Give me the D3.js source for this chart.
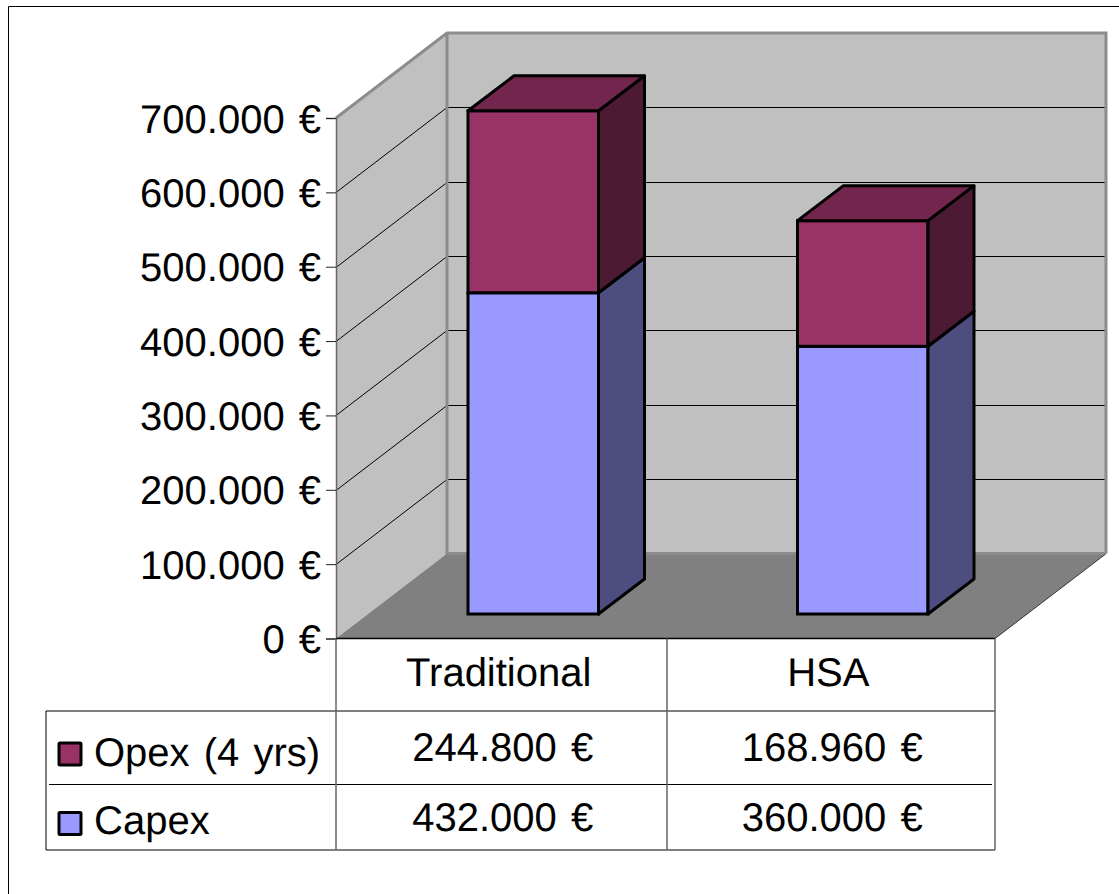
<!DOCTYPE html>
<meta charset="utf-8">
<script src="https://d3js.org/d3.v7.min.js"></script>
<style>
  html, body { margin: 0; background: #fff; }
  svg { display: block; }
  text { font-family: "Liberation Sans", Arial, sans-serif; fill: #000; text-rendering: geometricPrecision; word-spacing: 3px; }
</style>
<body>
<div id="my_dataviz"></div>
<script>
// values
var categories = ["Traditional", "HSA"];
var seriesNames = ["Capex", "Opex (4 yrs)"];
var capex = [432000, 360000];
var opex = [244800, 168960];
var yTicks = [0, 100000, 200000, 300000, 400000, 500000, 600000, 700000];

var colors = {
  capex: { front: "#9999ff", side: "#4d4d80", top: "#7a7acc" },
  opex: { front: "#993366", side: "#4d1a33", top: "#73264d" }
};

var width = 1119, height = 894;

// plot box: front plane of the 3d box, then how far the back wall is pushed
var left = 336, right = 995, bottom = 638.5, top3d = 118;
var depthX = 111, depthY = 85, backRight = 1106;
// bars stand a bit behind the front edge
var barShiftX = 32.5, barShiftY = 24.5, barSideX = 46, barSideY = 35, barWidth = 130.5;
var rows = { head: 711, opex: 784.5, end: 850 };
var tableLeft = 46, colLine = 667;
var fontSize = "40px";

var svg = d3.select("#my_dataviz")
  .append("svg")
    .attr("width", width)
    .attr("height", height);

var euro = d3.formatLocale({
  decimal: ",", thousands: ".", grouping: [3], currency: ["", " €"]
}).format("$,.0f");

var y = d3.scaleLinear().domain([0, 700000]).range([bottom, top3d]);
var x = d3.scaleBand().domain(categories).range([left, right]);

// outer frame
svg.append("path")
  .attr("d", "M8.5," + height + "V6.5H" + width)
  .attr("fill", "none")
  .attr("stroke", "#000")
  .attr("stroke-width", 1);

// left wall
svg.append("path")
  .attr("d", d3.line()([[left, bottom], [left, top3d], [left + depthX, top3d - depthY], [left + depthX, bottom - depthY]]) + "Z")
  .attr("fill", "#c0c0c0");
// back wall
svg.append("rect")
  .attr("x", left + depthX)
  .attr("y", top3d - depthY)
  .attr("width", backRight - left - depthX)
  .attr("height", bottom - top3d)
  .attr("fill", "#c0c0c0");
// floor
svg.append("path")
  .attr("d", d3.line()([[left, bottom], [left + depthX, bottom - depthY], [backRight, bottom - depthY], [right, bottom]]) + "Z")
  .attr("fill", "#808080");

// gridlines
svg.append("g").selectAll("path")
  .data(yTicks.slice(1, -1))
  .enter().append("path")
    .attr("d", function(d) {
      var yy = Math.round(y(d)) + 0.5;
      return "M" + left + "," + yy + "L" + (left + depthX) + "," + (yy - depthY) + "H" + backRight;
    })
    .attr("fill", "none")
    .attr("stroke", "#000")
    .attr("stroke-width", 1);

// wall edges
svg.append("path")
  .attr("d", "M" + left + "," + top3d + "L" + (left + depthX) + "," + (top3d - depthY) + "H" + backRight
    + "V" + (bottom - depthY) + "M" + (left + depthX) + "," + (top3d - depthY) + "V" + (bottom - depthY) + "H" + backRight)
  .attr("fill", "none")
  .attr("stroke", "#8c8c8c")
  .attr("stroke-width", 3);
svg.append("path")
  .attr("d", "M" + (backRight - 1) + "," + (bottom - depthY + 1) + "L" + right + "," + bottom)
  .attr("fill", "none")
  .attr("stroke", "#333")
  .attr("stroke-width", 1);

// bars
var stack = d3.stack().keys(["capex", "opex"]);
var rowsData = categories.map(function(c, i) {
  return { category: c, capex: capex[i], opex: opex[i] };
});
var layers = stack(rowsData);

layers.forEach(function(layer) {
  var key = layer.key;
  var g = svg.append("g").attr("class", key);
  layer.forEach(function(d) {
    var cat = d.data.category;
    var x0 = x(cat) + x.bandwidth() / 2 + barShiftX - barWidth / 2;
    var x1 = x0 + barWidth;
    var yb = y(d[0]) - barShiftY;
    var yt = y(d[1]) - barShiftY;
    g.append("rect")
      .attr("x", x0).attr("y", yt)
      .attr("width", barWidth).attr("height", yb - yt)
      .attr("fill", colors[key].front)
      .attr("stroke", "#000").attr("stroke-width", 3);
    g.append("path")
      .attr("d", d3.line()([[x1, yb], [x1 + barSideX, yb - barSideY], [x1 + barSideX, yt - barSideY], [x1, yt]]) + "Z")
      .attr("fill", colors[key].side)
      .attr("stroke", "#000").attr("stroke-width", 3).attr("stroke-linejoin", "round");
    if (key == "opex") {
      g.append("path")
        .attr("d", d3.line()([[x0, yt], [x0 + barSideX, yt - barSideY], [x1 + barSideX, yt - barSideY], [x1, yt]]) + "Z")
        .attr("fill", colors[key].top)
        .attr("stroke", "#000").attr("stroke-width", 3).attr("stroke-linejoin", "round");
    }
  });
});

// y axis
var axis = svg.append("g")
  .attr("transform", "translate(" + left + ",0)")
  .call(d3.axisLeft(y).tickValues(yTicks).tickFormat(euro).tickSize(10).tickPadding(5));
axis.select(".domain").attr("stroke", "#666").attr("stroke-width", 1.5);
axis.selectAll(".tick line").attr("stroke", "#222");
axis.selectAll("text").style("font-size", fontSize).attr("y", 0).attr("dy", "0.35em").attr("fill", "#000");

// data table lines
var table = svg.append("g").attr("fill", "none");
table.append("path")
  .attr("d", "M" + left + "," + bottom + "H" + right)
  .attr("stroke", "#000").attr("stroke-width", 1.5);
table.append("path")
  .attr("d", "M" + tableLeft + "," + rows.head + "H" + right)
  .attr("stroke", "#555").attr("stroke-width", 1.5);
table.append("path")
  .attr("d", "M" + (tableLeft + 3) + "," + rows.opex + "H" + (right - 3))
  .attr("stroke", "#000").attr("stroke-width", 1);
table.append("path")
  .attr("d", "M" + tableLeft + "," + rows.head + "V" + rows.end + "H" + right)
  .attr("stroke", "#000").attr("stroke-width", 1);
[left, colLine, right].forEach(function(px) {
  table.append("path")
    .attr("d", "M" + px + "," + bottom + "V" + rows.end)
    .attr("stroke", "#666").attr("stroke-width", 1.5);
});

// table text
var mid = function(c) { return x(c) + x.bandwidth() / 2; };
var cell = function(px, py, s, anchor) {
  svg.append("text")
    .attr("x", px).attr("y", py)
    .attr("text-anchor", anchor || "middle")
    .style("font-size", fontSize)
    .text(s);
};
categories.forEach(function(c, i) {
  cell(mid(c) - 2, 686, c);
  cell(mid(c) + 2, 761, euro(opex[i]));
  cell(mid(c) + 2, 831, euro(capex[i]));
});
cell(94, 766, seriesNames[1], "start");
cell(94, 834, seriesNames[0], "start");

// legend swatches
svg.append("rect").attr("x", 59).attr("y", 743).attr("width", 22).attr("height", 22)
  .attr("rx", 1).attr("fill", colors.opex.front).attr("stroke", "#000").attr("stroke-width", 3);
svg.append("rect").attr("x", 59).attr("y", 812.5).attr("width", 22).attr("height", 22)
  .attr("rx", 1).attr("fill", colors.capex.front).attr("stroke", "#000").attr("stroke-width", 3);
</script>
</body>
